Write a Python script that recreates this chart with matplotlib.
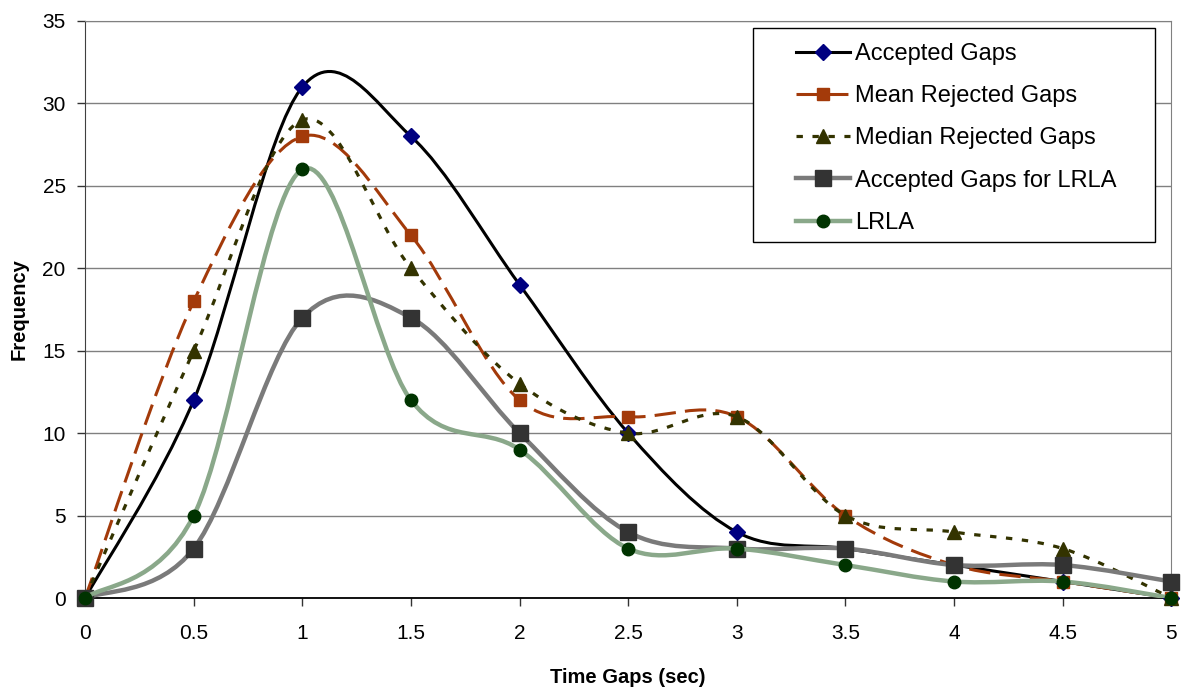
import numpy as np
import matplotlib.pyplot as plt
from matplotlib.path import Path
from matplotlib.patches import PathPatch, Rectangle
from matplotlib.lines import Line2D

plt.rcParams['font.family'] = ['Liberation Sans', 'DejaVu Sans']

time_gaps = [0, 0.5, 1, 1.5, 2, 2.5, 3, 3.5, 4, 4.5, 5]
tick_labels = ["0", "0.5", "1", "1.5", "2", "2.5", "3", "3.5", "4", "4.5", "5"]

accepted = [0, 12, 31, 28, 19, 10, 4, 3, 2, 1, 0]
mean_rejected = [0, 18, 28, 22, 12, 11, 11, 5, 2, 1, 0]
median_rejected = [0, 15, 29, 20, 13, 10, 11, 5, 4, 3, 0]
accepted_lrla = [0, 3, 17, 17, 10, 4, 3, 3, 2, 2, 1]
lrla = [0, 5, 26, 12, 9, 3, 3, 2, 1, 1, 0]


def smooth_path(xs, ys):
    # Excel style smoothed line: cubic bezier, tension 1/6
    pts = np.column_stack([xs, ys]).astype(float)
    n = len(pts)
    verts = [pts[0]]
    codes = [Path.MOVETO]
    for i in range(n - 1):
        p_prev = pts[i - 1] if i > 0 else pts[i]
        p_next2 = pts[i + 2] if i + 2 < n else pts[i + 1]
        c1 = pts[i] + (pts[i + 1] - p_prev) / 6
        c2 = pts[i + 1] - (p_next2 - pts[i]) / 6
        verts += [c1, c2, pts[i + 1]]
        codes += [Path.CURVE4] * 3
    return Path(verts, codes)


series = [
    ("Accepted Gaps", accepted,
     dict(color="black", lw=2.2, ls="-"),
     dict(marker="D", ms=8.5, mfc="#000080", mec="#000080")),
    ("Mean Rejected Gaps", mean_rejected,
     dict(color="#A33A0A", lw=2.2, ls=(0, (7, 3))),
     dict(marker="s", ms=8.5, mfc="#A33A0A", mec="#A33A0A")),
    ("Median Rejected Gaps", median_rejected,
     dict(color="#333300", lw=2.3, ls=(0, (2, 3))),
     dict(marker="^", ms=9.5, mfc="#333300", mec="#333300")),
    ("Accepted Gaps for LRLA", accepted_lrla,
     dict(color="#7A7A7A", lw=3.2, ls="-"),
     dict(marker="s", ms=12, mfc="#333333", mec="#333333")),
    ("LRLA", lrla,
     dict(color="#8AA88A", lw=3.2, ls="-"),
     dict(marker="o", ms=9, mfc="#003300", mec="#003300")),
]

fig = plt.figure(figsize=(11.82, 6.88), dpi=100)
ax = fig.add_axes([0.072, 0.1308, 0.919, 0.8387])

handles = []
for z, (name, vals, line_kw, mk_kw) in enumerate(series):
    patch = PathPatch(smooth_path(time_gaps, vals), fill=False,
                      edgecolor=line_kw["color"], lw=line_kw["lw"],
                      linestyle=line_kw["ls"], zorder=3 + z * 2,
                      capstyle="butt", joinstyle="round")
    ax.add_patch(patch)
    ax.plot(time_gaps, vals, ls="none", zorder=4 + z * 2, clip_on=False, **mk_kw)
    handles.append(Line2D([], [], color=line_kw["color"], lw=line_kw["lw"],
                          linestyle=line_kw["ls"], **mk_kw))

ax.set_xlim(0, 5)
ax.set_ylim(0, 35)
ax.set_xticks(time_gaps)
ax.set_xticklabels(tick_labels)
ax.set_yticks(range(0, 36, 5))
ax.yaxis.grid(True, color="#808080", lw=1)
ax.set_axisbelow(True)
ax.tick_params(labelsize=15, length=6, width=1, color="#333333")
ax.tick_params(axis="x", pad=13)
ax.tick_params(axis="y", pad=8)
for side in ["top", "right"]:
    ax.spines[side].set_color("#808080")
ax.spines["left"].set_color("#404040")
ax.spines["bottom"].set_color("black")
ax.spines["bottom"].set_linewidth(1.3)

ax.set_xlabel("Time Gaps (sec)", fontsize=14.5, fontweight="bold", labelpad=18)
ax.set_ylabel("Frequency", fontsize=14.5, fontweight="bold", labelpad=10)

# legend box drawn separately so the padding matches
W, H = 1182, 688
fig.patches.append(Rectangle((753 / W, 1 - 242 / H), 402 / W, 214 / H,
                             transform=fig.transFigure, facecolor="white",
                             edgecolor="black", lw=1, zorder=19))
leg = fig.legend(handles=handles, labels=[s[0] for s in series],
                 loc="upper left", bbox_to_anchor=(784 / W, 1 - 31 / H),
                 fontsize=17, frameon=False, handlelength=2.3,
                 labelspacing=0.86, borderpad=0, handletextpad=0.22)
leg.set_zorder(20)

fig.savefig("out.png", dpi=100)
